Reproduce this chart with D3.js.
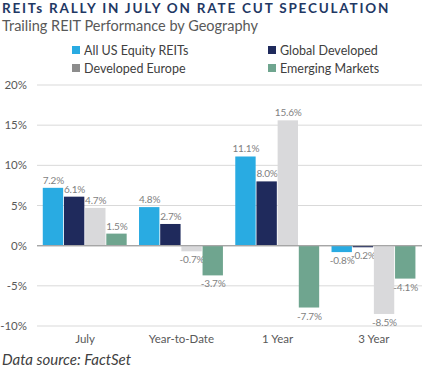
<!DOCTYPE html>
<html><head><meta charset="utf-8">
<script src="https://cdn.jsdelivr.net/npm/d3@7"></script>
<style>body{margin:0;background:#fff}svg{display:block}text{font-family:Lato,"Open Sans",sans-serif}</style>
</head><body><svg id="c" width="425" height="370"></svg>
<script>
const categories = ["July","Year-to-Date","1 Year","3 Year"];
const seriesNames = ["All US Equity REITs","Global Developed","Developed Europe","Emerging Markets"];
const allUS = [7.2, 4.8, 11.1, -0.8];
const globalDev = [6.1, 2.7, 8.0, -0.2];
const devEurope = [4.7, -0.7, 15.6, -8.5];
const emerging = [1.5, -3.7, -7.7, -4.1];
const yTicks = [-10,-5,0,5,10,15,20];
const colors = ["#29abe2","#1f2a5c","#d9d9db","#6fa58f"];
const legendColors = ["#29abe2","#1f2a5c","#8c8c8c","#6fa58f"];
const series = [allUS, globalDev, devEurope, emerging];

const svg = d3.select("#c");
const x0 = d3.scaleBand().domain(categories).range([37,422]).paddingInner(0.12).paddingOuter(0.06);
const x1 = d3.scaleBand().domain(d3.range(4)).range([0,x0.bandwidth()]);
const y = d3.scaleLinear().domain([-10,20]).range([326,85]);

svg.append("text").attr("x",2).attr("y",13).attr("fill","#1f3864").attr("font-size",13.5).attr("font-weight",700).attr("letter-spacing",1.8).text("REITs RALLY IN JULY ON RATE CUT SPECULATION");
svg.append("text").attr("x",2).attr("y",31).attr("fill","#595959").attr("font-size",14.5).text("Trailing REIT Performance by Geography");

// legend
const lx=[72,268], ly=[50,68];
seriesNames.forEach((n,i)=>{
  const g=svg.append("g").attr("transform",`translate(${lx[i%2]},${ly[Math.floor(i/2)]})`);
  g.append("rect").attr("x",0).attr("y",-4).attr("width",8).attr("height",8).attr("fill",legendColors[i]);
  g.append("text").attr("x",12).attr("y",4.5).attr("fill","#404040").attr("font-size",12.5).text(n);
});

// grid
svg.append("g").selectAll("line").data(yTicks).join("line")
  .attr("x1",37).attr("x2",422).attr("y1",d=>y(d)).attr("y2",d=>y(d))
  .attr("stroke",d=>d===0?"#a6a6a6":"#d9d9d9").attr("stroke-width",d=>d===0?1.3:1);
svg.append("g").selectAll("text").data(yTicks).join("text")
  .attr("x",27).attr("y",d=>y(d)+4).attr("text-anchor","end").attr("fill","#595959").attr("font-size",11.5)
  .text(d=>d+"%");

// bars
categories.forEach((c,ci)=>{
  series.forEach((s,si)=>{
    const v=s[ci];
    const bx=x0(c)+x1(si), bw=x1.bandwidth();
    svg.append("rect").attr("x",bx).attr("width",bw-0.8)
      .attr("y",y(Math.max(0,v))).attr("height",Math.abs(y(v)-y(0)))
      .attr("fill",colors[si]);
    svg.append("text").attr("x",bx+bw/2).attr("y",v>=0?y(v)-4:y(v)+12)
      .attr("text-anchor","middle").attr("fill","#7f7f7f").attr("font-size",10).attr("letter-spacing",-0.2)
      .text(v.toFixed(1)+"%");
  });
  svg.append("text").attr("x",x0(c)+x0.bandwidth()/2).attr("y",343).attr("text-anchor","middle")
    .attr("fill","#595959").attr("font-size",11.5).text(c);
});
svg.append("line").attr("x1",37).attr("x2",422).attr("y1",y(0)).attr("y2",y(0)).attr("stroke","#a6a6a6").attr("stroke-width",1.3);

svg.append("text").attr("x",2).attr("y",365).attr("fill","#404040").attr("font-size",15).attr("font-style","italic").text("Data source: FactSet");
</script></body></html>
